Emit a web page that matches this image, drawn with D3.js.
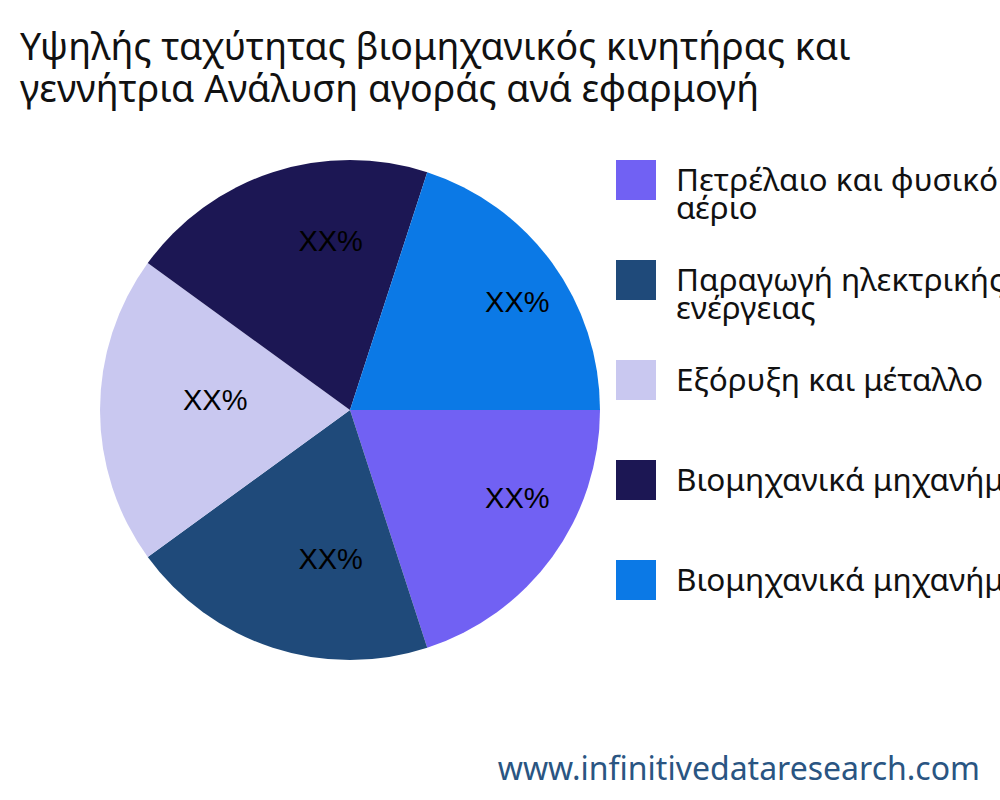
<!DOCTYPE html><html><head><meta charset="utf-8">
<script src="https://cdn.jsdelivr.net/npm/d3@7"></script>
<style>body{margin:0;background:#fff}</style></head><body>
<svg id="c" width="1000" height="800"></svg>
<script>
const categories=["Πετρέλαιο και φυσικό αέριο","Παραγωγή ηλεκτρικής ενέργειας","Εξόρυξη και μέταλλο","Βιομηχανικά μηχανήματα","Βιομηχανικά μηχανήματα"];
const legendLines=[["Πετρέλαιο και φυσικό","αέριο"],["Παραγωγή ηλεκτρικής","ενέργειας"],["Εξόρυξη και μέταλλο"],["Βιομηχανικά μηχανήματα"],["Βιομηχανικά μηχανήματα"]];
const values=[20,20,20,20,20];
const labels=["XX%","XX%","XX%","XX%","XX%"];
const colors=["#7161f3","#1f4a7a","#c9c8f0","#1c1754","#0b79e6"];
const svg=d3.select("#c");
svg.append("text").attr("x",20).attr("y",60).attr("font-family","Noto Sans").attr("font-size",37.5).attr("fill","#111").text("Υψηλής ταχύτητας βιομηχανικός κινητήρας και");
svg.append("text").attr("x",20).attr("y",102).attr("font-family","Noto Sans").attr("font-size",37.5).attr("fill","#111").text("γεννήτρια Ανάλυση αγοράς ανά εφαρμογή");
const pie=d3.pie().sort(null).startAngle(Math.PI/2).endAngle(Math.PI/2+2*Math.PI)(values);
const arc=d3.arc().innerRadius(0).outerRadius(250);
const la=d3.arc().innerRadius(167).outerRadius(167);
const g=svg.append("g").attr("transform","translate(350,410)");
g.selectAll("path").data(pie).join("path").attr("d",arc).attr("fill",(d,i)=>colors[i]);
g.selectAll("text").data(pie).join("text").attr("transform",d=>`translate(${la.centroid(d)})`)
 .attr("text-anchor","start").attr("font-family","Liberation Sans").attr("font-size",29).attr("fill","#000").text((d,i)=>labels[i]);
const lg=svg.append("g");
categories.forEach((c,i)=>{
 const y=160+i*100;
 lg.append("rect").attr("x",616).attr("y",y).attr("width",40).attr("height",40).attr("fill",colors[i]);
 legendLines[i].forEach((t,j)=>lg.append("text").attr("x",676).attr("y",y+31+j*28).attr("font-family","Noto Sans").attr("font-size",31.5).attr("fill","#111").text(t));
});
svg.append("text").attr("x",980).attr("y",780).attr("text-anchor","end").attr("font-family","Noto Sans").attr("font-size",32).attr("fill","#2a5582").text("www.infinitivedataresearch.com");
</script></body></html>
